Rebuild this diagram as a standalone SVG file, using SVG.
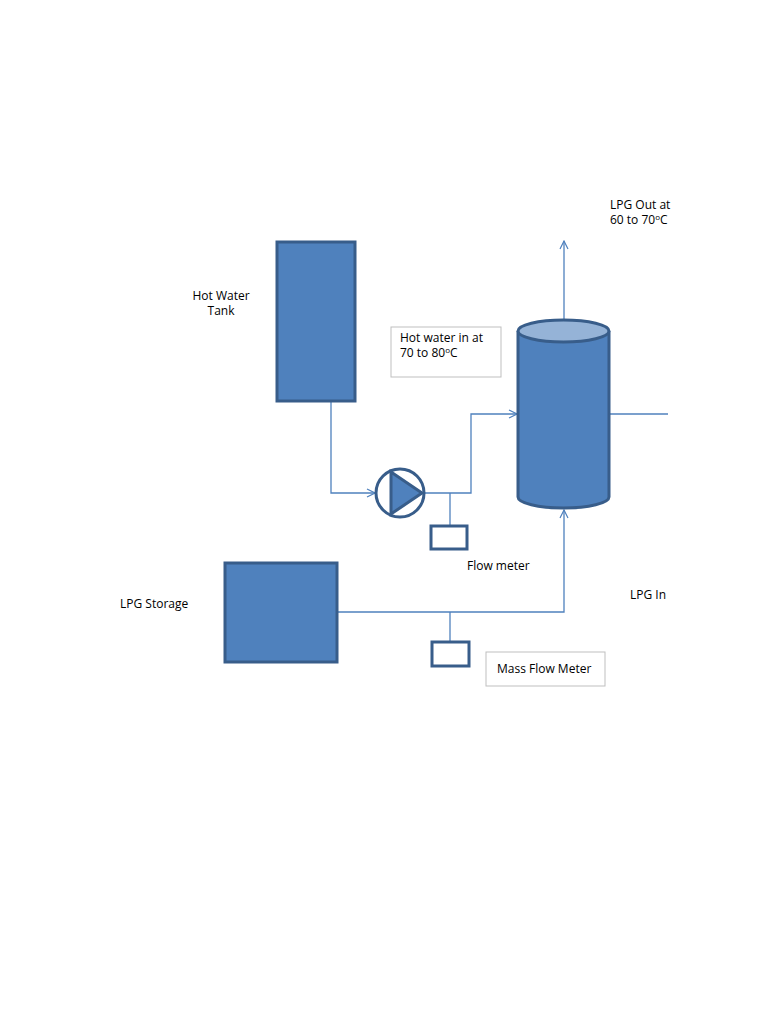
<svg xmlns="http://www.w3.org/2000/svg" width="768" height="1024" viewBox="0 0 768 1024">
<style>
.eq{fill:#4f81bd;stroke:#385d8a;stroke-width:3}
.ln{fill:none;stroke:#4f81bd;stroke-width:1.3}
.box{fill:#fff;stroke:#385d8a;stroke-width:3}
.lb{fill:#fff;stroke:#bfbfbf;stroke-width:1}
text{font-family:"Open Sans","Liberation Sans",sans-serif;font-size:12px;fill:#000}
</style>
<defs><marker id="a" markerWidth="10" markerHeight="10" refX="9" refY="5" orient="auto" markerUnits="userSpaceOnUse"><path d="M1,1 L9,5 L1,9" fill="none" stroke="#4f81bd" stroke-width="1.2"/></marker></defs>
<rect width="768" height="1024" fill="#fff"/>
<g id="connectors">
<path class="ln" d="M331,401 V493 H375" marker-end="url(#a)"/>
<path class="ln" d="M424,493 H471 V414 H517" marker-end="url(#a)"/>
<path class="ln" d="M450,493 V526"/>
<path class="ln" d="M564,320 V241" marker-end="url(#a)"/>
<path class="ln" d="M609,414 H668"/>
<path class="ln" d="M337,612 H564 V510" marker-end="url(#a)"/>
<path class="ln" d="M450,612 V642"/>
</g>
<g id="hot-water-tank"><rect class="eq" x="277" y="242" width="78" height="159"/><text x="221" y="300" text-anchor="middle">Hot Water</text><text x="221" y="315" text-anchor="middle">Tank</text></g>
<g id="pump"><circle cx="400" cy="493" r="24" fill="#fff" stroke="#385d8a" stroke-width="3"/><path d="M391,472 L422,493 L391,514 Z" class="eq" stroke-width="2"/></g>
<g id="flow-meter"><rect class="box" x="431" y="526" width="36" height="23"/><text x="467" y="570">Flow meter</text></g>
<g id="vessel"><path class="eq" d="M518,331 V497 A45.5,11 0 0 0 609,497 V331"/><ellipse cx="563.5" cy="331" rx="45.5" ry="11" fill="#95b3d7" stroke="#385d8a" stroke-width="3"/></g>
<g id="lpg-storage"><rect class="eq" x="225" y="563" width="112" height="99"/><text x="120" y="608">LPG Storage</text></g>
<g id="mass-flow-meter"><rect class="box" x="432" y="642" width="37" height="24"/></g>
<g id="label-hot-water"><rect class="lb" x="391" y="327" width="110" height="50"/><text x="400" y="342">Hot water in at</text><text x="400" y="357">70 to 80<tspan font-size="8" dy="-4">o</tspan><tspan dy="4">C</tspan></text></g>
<g id="label-mass"><rect class="lb" x="486" y="652" width="119" height="34"/><text x="497" y="673">Mass Flow Meter</text></g>
<g id="label-out"><text x="610" y="209">LPG Out at</text><text x="610" y="224">60 to 70<tspan font-size="8" dy="-4">o</tspan><tspan dy="4">C</tspan></text></g>
<g id="label-in"><text x="630" y="599">LPG In</text></g>
</svg>
